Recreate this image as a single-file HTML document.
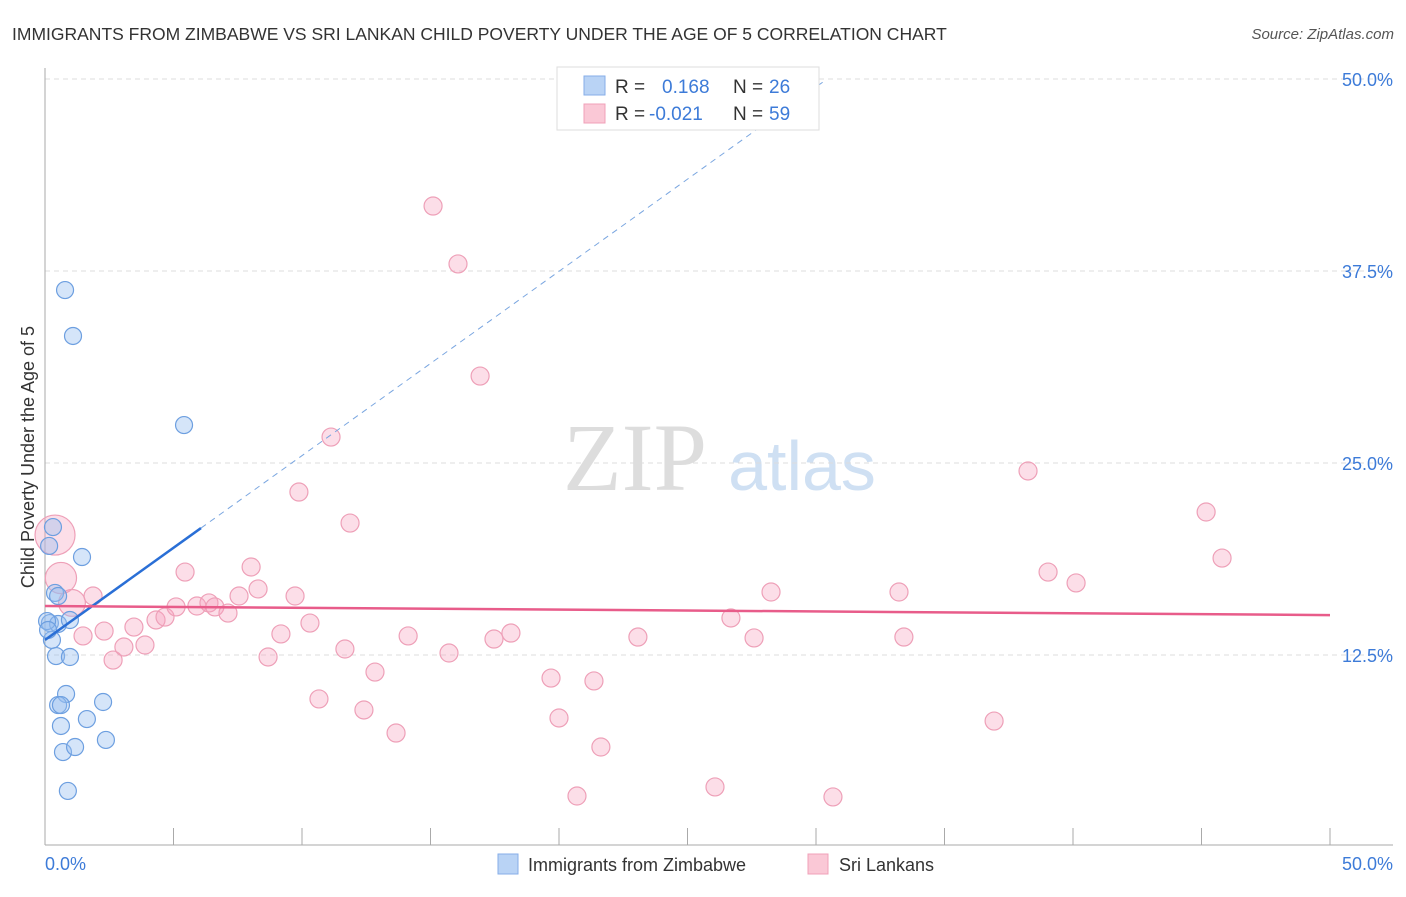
<!DOCTYPE html>
<html><head><meta charset="utf-8"><style>
body{margin:0;background:#fff;font-family:"Liberation Sans",sans-serif}
svg text{font-family:"Liberation Sans",sans-serif}
</style></head><body>
<svg id="c" width="1406" height="892">
<text x="12" y="40" font-size="17.5" fill="#333">IMMIGRANTS FROM ZIMBABWE VS SRI LANKAN CHILD POVERTY UNDER THE AGE OF 5 CORRELATION CHART</text>
<text x="1394" y="39" font-size="15" fill="#555" text-anchor="end" font-style="italic">Source: ZipAtlas.com</text>
<g><text x="635" y="490" font-size="96" fill="#ddd" text-anchor="middle" style="font-family:'Liberation Serif',serif">ZIP</text><text x="802" y="490" font-size="70" fill="#cfe0f3" text-anchor="middle">atlas</text></g>
<g id="grid"></g><g id="axes"></g><g id="marks"></g>
<text transform="translate(34,457) rotate(-90)" font-size="18" fill="#333" text-anchor="middle">Child Poverty Under the Age of 5</text>
<g>
<rect x="557" y="67" width="262" height="63" fill="#fff" stroke="#ddd"/>
<rect x="584" y="76" width="21" height="19" fill="#b9d3f5" stroke="#86aee8"/>
<rect x="584" y="104" width="21" height="19" fill="#fac8d6" stroke="#f0a0b8"/>
<text x="615" y="93" font-size="19" fill="#333">R =</text><text x="662" y="93" font-size="19" fill="#3d7bd8">0.168</text>
<text x="733" y="93" font-size="19" fill="#333">N =</text><text x="769" y="93" font-size="19" fill="#3d7bd8">26</text>
<text x="615" y="120" font-size="19" fill="#333">R =</text><text x="649" y="120" font-size="19" fill="#3d7bd8">-0.021</text>
<text x="733" y="120" font-size="19" fill="#333">N =</text><text x="769" y="120" font-size="19" fill="#3d7bd8">59</text>
</g>
<g>
<rect x="498" y="854" width="20" height="20" fill="#b9d3f5" stroke="#86aee8"/>
<text x="528" y="871" font-size="18" fill="#333">Immigrants from Zimbabwe</text>
<rect x="808" y="854" width="20" height="20" fill="#fac8d6" stroke="#f0a0b8"/>
<text x="839" y="871" font-size="18" fill="#333">Sri Lankans</text>
</g>
</svg>
<script>
const yTicks=[12.5,25,37.5,50];
const yTickLabels=["12.5%","25.0%","37.5%","50.0%"];
const xTicks=[0,5,10,15,20,25,30,35,40,45,50];
const blueX=[0.78,1.09,5.41,0.31,0.16,1.44,0.39,0.51,0.19,0.51,0.97,0.27,0.43,0.97,0.82,0.51,0.62,1.63,2.26,0.62,2.37,0.70,1.17,0.89,0.08,0.12];
const blueY=[36.26,33.27,27.47,20.83,19.60,18.88,16.54,16.34,14.58,14.52,14.78,13.48,12.43,12.37,9.96,9.24,9.24,8.33,9.44,7.88,6.97,6.18,6.51,3.65,14.71,14.13];
const pinkX=[0.39,0.62,1.05,15.10,16.07,16.93,11.13,9.88,38.25,11.87,45.18,45.80,1.87,1.48,2.30,2.65,3.07,3.46,3.89,4.32,4.67,5.10,5.45,5.91,6.38,6.61,7.12,7.55,8.02,8.29,8.68,9.18,9.73,10.31,10.66,11.67,12.41,12.84,13.66,14.13,15.72,17.47,18.13,19.69,20.00,20.70,21.36,21.63,23.07,26.07,26.69,27.59,28.25,30.66,33.23,33.42,36.93,39.03,40.12];
const pinkY=[20.31,17.51,15.89,41.73,37.96,30.66,26.69,23.11,24.48,21.09,21.81,18.81,16.34,13.74,14.06,12.17,13.02,14.32,13.15,14.78,14.97,15.63,17.90,15.69,15.89,15.63,15.23,16.34,18.23,16.80,12.37,13.87,16.34,14.58,9.64,12.89,8.92,11.39,7.42,13.74,12.63,13.54,13.93,11.00,8.40,3.32,10.81,6.51,13.67,3.91,14.91,13.61,16.60,3.26,16.60,13.67,8.20,17.90,17.19];
const pinkWeight=[5,3,2];
const blueTrend=[13.48,1.2];
const pinkTrend=[15.69,15.10];
const X=v=>45+v*1285/50, Y=v=>847-v*768/50;
const NS="http://www.w3.org/2000/svg";
function mk(p,t,a){const e=document.createElementNS(NS,t);for(const k in a)e.setAttribute(k,a[k]);p.appendChild(e);return e;}
const grid=document.getElementById('grid'),axes=document.getElementById('axes'),marks=document.getElementById('marks');
yTicks.forEach((t,i)=>{
 const l=mk(grid,'line',{x1:45,x2:1393,y1:Y(t),y2:Y(t),stroke:'#ddd','stroke-dasharray':'5,4'});
 
 
 const tx=mk(axes,'text',{x:1393,y:Y(t)+7,'font-size':18,fill:'#3d7bd8','text-anchor':'end'});tx.textContent=yTickLabels[i];
 
 
});
const ya=mk(axes,'line',{x1:45,x2:45,y1:68,y2:845,stroke:'#aaa'});


const xa=mk(axes,'line',{x1:45,x2:1393,y1:845,y2:845,stroke:'#aaa'});


xTicks.forEach(t=>{const l=mk(axes,'line',{x1:X(t),x2:X(t),y1:828,y2:845,stroke:'#aaa'});
 
 });
[[0,'start',45],[50,'end',1393]].forEach(([v,a,x])=>{const t=mk(axes,'text',{x:x,y:870,'font-size':18,fill:'#3d7bd8','text-anchor':a});t.textContent=v.toFixed(1)+'%';
 
 });
pinkX.forEach((x,i)=>{const r=9+(pinkWeight[i]||0)*2.2;const c=mk(marks,'circle',{cx:X(x),cy:Y(pinkY[i]),r:r,fill:'rgba(246,160,188,0.35)',stroke:'#eea0b8','stroke-width':1.2});
 
 });
blueX.forEach((x,i)=>{const c=mk(marks,'circle',{cx:X(x),cy:Y(blueY[i]),r:8.5,fill:'rgba(150,190,240,0.4)',stroke:'#6d9fe0','stroke-width':1.2});
 
 });
const bx1=6.07,bx2=30.35;
const bd=mk(marks,'line',{x1:X(bx1),y1:Y(blueTrend[0]+blueTrend[1]*bx1),x2:X(bx2),y2:Y(blueTrend[0]+blueTrend[1]*bx2),stroke:'#7aa6e0','stroke-dasharray':'6,5'});


const bl=mk(marks,'line',{x1:X(0),y1:Y(blueTrend[0]),x2:X(bx1),y2:Y(blueTrend[0]+blueTrend[1]*bx1),stroke:'#2a6fd6','stroke-width':2.5});


const pl=mk(marks,'line',{x1:X(0),y1:Y(pinkTrend[0]),x2:X(50),y2:Y(pinkTrend[1]),stroke:'#e85c8a','stroke-width':2.5});


</script>
</body></html>
